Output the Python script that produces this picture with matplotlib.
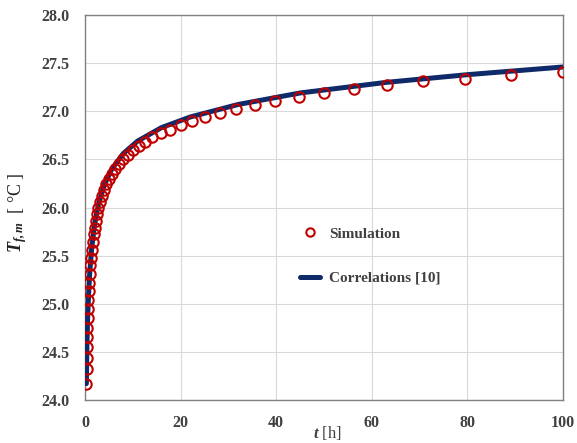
import numpy as np
import matplotlib
matplotlib.use('Agg')
import matplotlib.pyplot as plt

# simulation points, log-spaced in time (20 per decade)
sim_t = [0.28, 0.32, 0.35, 0.40, 0.45, 0.50, 0.56, 0.63, 0.71, 0.79, 0.89,
         1.00, 1.12, 1.26, 1.41, 1.58, 1.78, 2.00, 2.24, 2.51, 2.82, 3.16,
         3.55, 3.98, 4.47, 5.01, 5.62, 6.31, 7.08, 7.94, 8.91, 10.0, 11.2,
         12.6, 14.1, 15.8, 17.8, 20.0, 22.4, 25.1, 28.2, 31.6, 35.5, 39.8,
         44.7, 50.1, 56.2, 63.1, 70.8, 79.4, 89.1, 100.0]
sim_T = [24.17, 24.32, 24.44, 24.55, 24.65, 24.75, 24.85, 24.95, 25.04, 25.13, 25.22,
         25.31, 25.40, 25.48, 25.56, 25.64, 25.72, 25.79, 25.86, 25.93, 26.00, 26.06,
         26.12, 26.18, 26.24, 26.30, 26.35, 26.40, 26.45, 26.50, 26.55, 26.60, 26.64,
         26.68, 26.73, 26.77, 26.81, 26.86, 26.90, 26.94, 26.98, 27.02, 27.07, 27.11,
         27.15, 27.19, 27.23, 27.27, 27.31, 27.34, 27.38, 27.41]

# correlation curve
cor_t = [0.28, 0.4, 0.56, 0.8, 1.0, 1.4, 2.0, 2.8, 4.0, 5.6, 8.0, 11.0, 16.0,
         22.0, 32.0, 45.0, 63.0, 80.0, 100.0]
cor_T = [24.17, 24.56, 24.87, 25.15, 25.33, 25.58, 25.82, 26.03, 26.23, 26.40,
         26.56, 26.69, 26.83, 26.94, 27.07, 27.19, 27.30, 27.38, 27.46]

x_ticks = [0, 20, 40, 60, 80, 100]
y_ticks = [24.0, 24.5, 25.0, 25.5, 26.0, 26.5, 27.0, 27.5, 28.0]

plt.rcParams['font.family'] = ['Liberation Serif', 'DejaVu Serif']
plt.rcParams['mathtext.fontset'] = 'custom'
plt.rcParams['mathtext.rm'] = 'Liberation Serif'
plt.rcParams['mathtext.it'] = 'Liberation Serif:italic'
plt.rcParams['mathtext.bf'] = 'Liberation Serif:bold'
plt.rcParams['mathtext.bfit'] = 'Liberation Serif:italic:bold'

txt = '#404040'
fig = plt.figure(figsize=(5.77, 4.43), dpi=100)
ax = fig.add_axes([85/577, 1-400/443, 478/577, 385/443])

ax.plot(cor_t, cor_T, color='#0f2a68', lw=3.6, solid_capstyle='round',
        label='Correlations [10]', zorder=3)
ax.plot(sim_t, sim_T, 'o', mfc='none', mec='#c00000', mew=1.5, ms=7.5,
        label='Simulation', zorder=4)

ax.set_xlim(0, 100)
ax.set_ylim(24, 28)
ax.set_xticks(x_ticks)
ax.set_yticks(y_ticks)
ax.set_yticklabels([f'{v:.1f}' for v in y_ticks])
ax.tick_params(length=0, labelsize=11.5, labelcolor=txt, pad=11)
for lbl in ax.get_xticklabels() + ax.get_yticklabels():
    lbl.set_fontweight('bold')
ax.grid(True, color='#d9d9d9', lw=0.8)
ax.set_axisbelow(True)
for s in ax.spines.values():
    s.set_color('#808080')
    s.set_linewidth(1.0)

ax.set_xlabel(r'$\mathbfit{t}$ [h]', fontsize=12, color=txt)
ax.xaxis.set_label_coords(0.508, -0.062)

fig.text(18/577, 1-213/443, r'$\mathbfit{T}_{\mathbfit{f,m}}$  [ °C ]',
         rotation=90, ha='center', va='center', fontsize=13, color='#222222')

handles, labels = ax.get_legend_handles_labels()
leg = ax.legend(handles[::-1], labels[::-1], loc='upper left',
                bbox_to_anchor=(0.422, 0.485), frameon=False,
                prop={'weight': 'bold', 'size': 11}, labelspacing=2.0,
                handlelength=1.3, handletextpad=0.6, markerscale=0.8)
for t in leg.get_texts():
    t.set_color(txt)

fig.savefig('out.png', dpi=100)
